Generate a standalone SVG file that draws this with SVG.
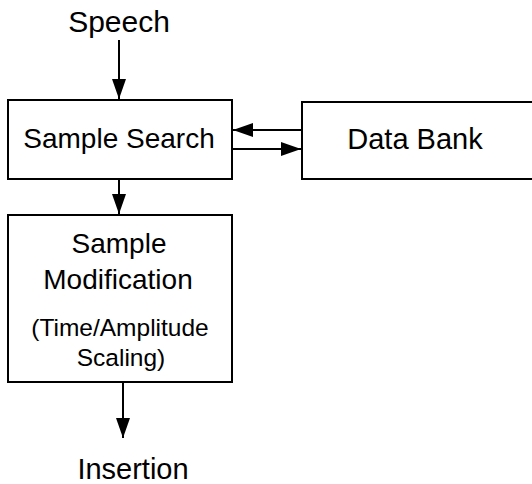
<svg xmlns="http://www.w3.org/2000/svg" width="532" height="484" viewBox="0 0 532 484">
<style>
.box{fill:#fff;stroke:#000;stroke-width:2}
.t{font-family:"Liberation Sans",Arial,sans-serif;font-size:28px;fill:#000;text-anchor:middle}
.s{font-size:24.5px}
.c{stroke:#000;stroke-width:2;fill:none}
</style>
<defs>
<marker id="ah" markerUnits="userSpaceOnUse" markerWidth="22" markerHeight="16" refX="20" refY="7" orient="auto">
<path d="M0,0 L20,7 L0,14 Z" fill="#000"/>
</marker>
</defs>
<rect width="532" height="484" fill="#fff"/>
<text class="t" x="119" y="32" style="font-size:30px">Speech</text>
<g id="sample-search">
<rect class="box" x="8" y="100" width="224" height="79"/>
<text class="t" x="119" y="148">Sample Search</text>
</g>
<g id="data-bank">
<rect class="box" x="302" y="102" width="240" height="77"/>
<text class="t" x="415" y="149" style="font-size:29px">Data Bank</text>
</g>
<g id="sample-modification">
<rect class="box" x="8" y="215" width="224" height="167"/>
<text class="t" x="119" y="253">Sample</text>
<text class="t" x="118" y="289">Modification</text>
<text class="t s" x="120" y="336">(Time/Amplitude</text>
<text class="t s" x="121" y="366">Scaling)</text>
</g>
<text class="t" x="133" y="479" style="font-size:29px">Insertion</text>
<g id="connectors">
<line class="c" x1="119" y1="40" x2="119" y2="99" marker-end="url(#ah)"/>
<line class="c" x1="302" y1="130" x2="233" y2="130" marker-end="url(#ah)"/>
<line class="c" x1="232" y1="149" x2="301" y2="149" marker-end="url(#ah)"/>
<line class="c" x1="119" y1="179" x2="119" y2="214" marker-end="url(#ah)"/>
<line class="c" x1="123" y1="382" x2="123" y2="438" marker-end="url(#ah)"/>
</g>
</svg>
